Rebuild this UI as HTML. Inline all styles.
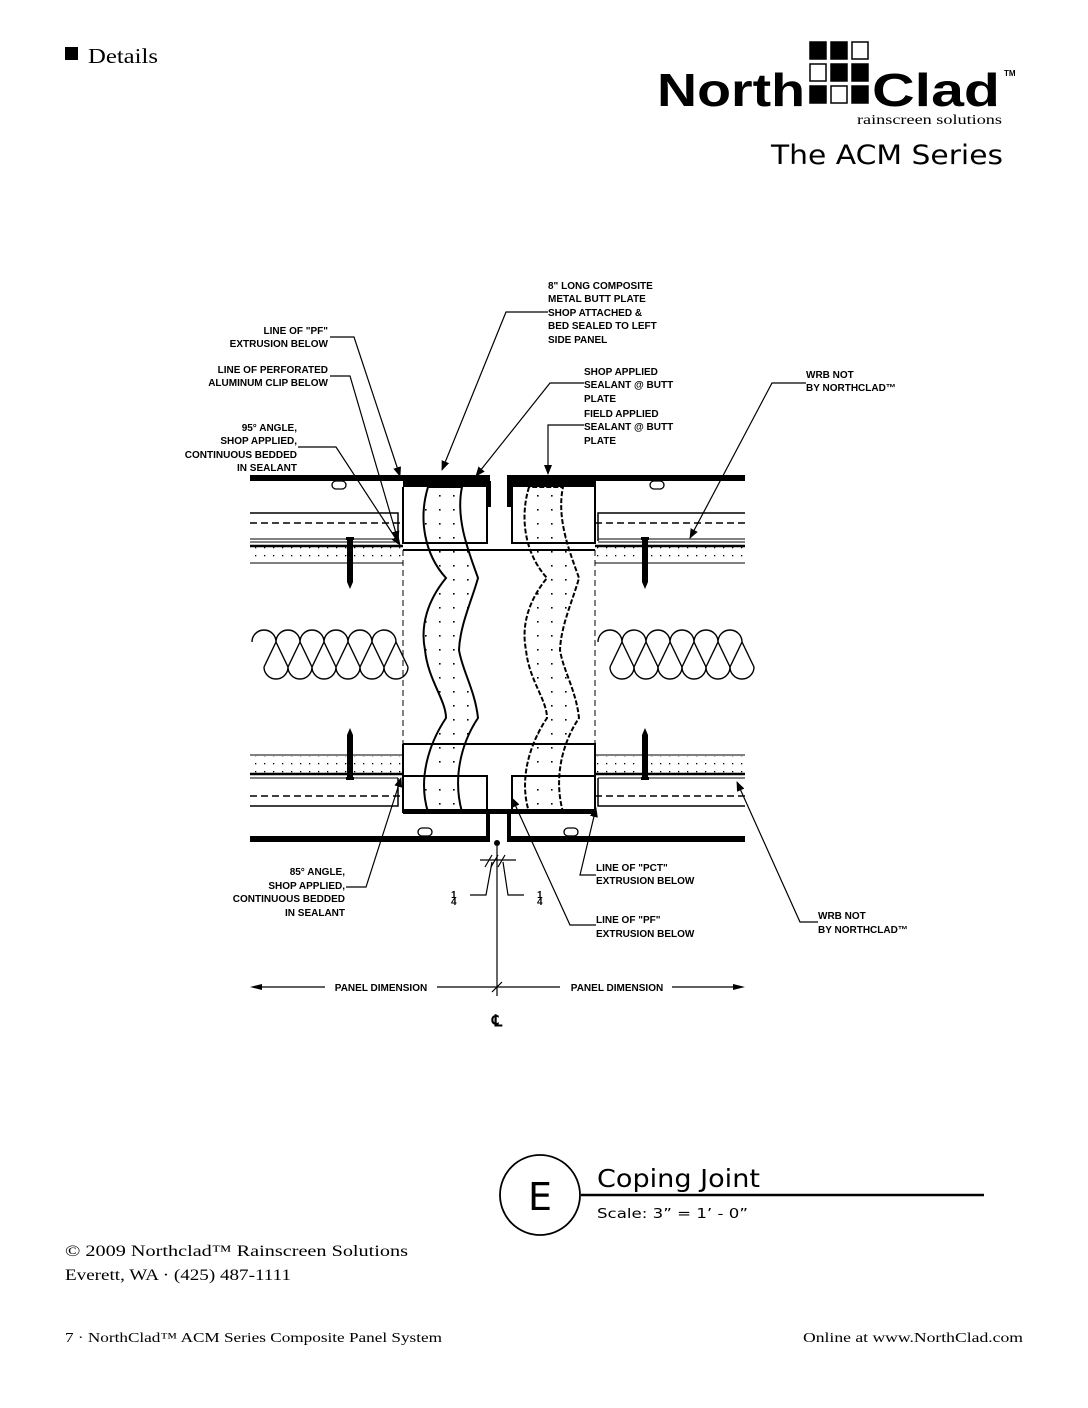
<!DOCTYPE html>
<html><head><meta charset="utf-8"><style>
body{margin:0;background:#fff;}
svg{display:block;}
.lb{font-family:"Liberation Sans",Arial,sans-serif;font-size:10px;font-weight:bold;fill:#000;}
</style></head><body>
<svg width="1088" height="1408" viewBox="0 0 1088 1408" xmlns="http://www.w3.org/2000/svg">
<defs>
<pattern id="dots" width="9" height="8" patternUnits="userSpaceOnUse"><rect x="3" y="3" width="1.3" height="1.3" fill="#000"/></pattern>
<pattern id="dots2" width="14" height="14" patternUnits="userSpaceOnUse"><rect x="5" y="5" width="1.6" height="1.6" fill="#000"/></pattern>
<marker id="ar" markerWidth="10" markerHeight="8" refX="9" refY="4" orient="auto" markerUnits="userSpaceOnUse"><path d="M0,0 L10,4 L0,8 z" fill="#000"/></marker>
<g id="coil" fill="none" stroke="#000" stroke-width="1.4">
<path d="M0,647 A12,12 0 0 1 24,647 M24,647 A12,12 0 0 1 48,647 M48,647 A12,12 0 0 1 72,647 M72,647 A12,12 0 0 1 96,647 M96,647 A12,12 0 0 1 120,647 M120,647 A12,12 0 0 1 144,647"/>
<path d="M12,672 A12,12 0 0 0 36,672 M36,672 A12,12 0 0 0 60,672 M60,672 A12,12 0 0 0 84,672 M84,672 A12,12 0 0 0 108,672 M108,672 A12,12 0 0 0 132,672 M132,672 A12,12 0 0 0 156,672"/>
<path d="M24,647 L12,672 M24,647 L36,672 M48,647 L36,672 M48,647 L60,672 M72,647 L60,672 M72,647 L84,672 M96,647 L84,672 M96,647 L108,672 M120,647 L108,672 M120,647 L132,672 M144,647 L132,672 M144,647 L156,672"/>
</g>
<g id="screwD"><rect x="-4" y="0" width="8" height="3" fill="#000"/><path d="M-3,3 L3,3 L3,45 L0,52 L-3,45 z" fill="#000"/></g>
</defs>

<!-- header -->
<rect x="65" y="47" width="13" height="13" fill="#000"/>
<text x="88" y="63" font-family="Liberation Serif,serif" font-size="21" fill="#000" textLength="70" lengthAdjust="spacingAndGlyphs">Details</text>
<text x="657" y="106" font-family="Liberation Sans,sans-serif" font-weight="bold" font-size="46" fill="#000" textLength="148" lengthAdjust="spacingAndGlyphs">North</text>
<g stroke="#000" stroke-width="1.5">
<rect x="810" y="42" width="16" height="17" fill="#000"/><rect x="831" y="42" width="16" height="17" fill="#000"/><rect x="852" y="42" width="16" height="17" fill="#fff"/>
<rect x="810" y="64" width="16" height="17" fill="#fff"/><rect x="831" y="64" width="16" height="17" fill="#000"/><rect x="852" y="64" width="16" height="17" fill="#000"/>
<rect x="810" y="86" width="16" height="17" fill="#000"/><rect x="831" y="86" width="16" height="17" fill="#fff"/><rect x="852" y="86" width="16" height="17" fill="#000"/>
</g>
<text x="872" y="106" font-family="Liberation Sans,sans-serif" font-weight="bold" font-size="46" fill="#000" textLength="128" lengthAdjust="spacingAndGlyphs">Clad</text>
<text x="1004" y="76" font-family="Liberation Sans,sans-serif" font-weight="bold" font-size="8" fill="#000">TM</text>
<text x="857" y="124" font-family="Liberation Serif,serif" font-size="14" fill="#000" textLength="145" lengthAdjust="spacingAndGlyphs">rainscreen solutions</text>
<text x="771" y="164" font-family="DejaVu Sans,sans-serif" font-size="27" fill="#000" textLength="232" lengthAdjust="spacingAndGlyphs">The ACM Series</text>

<!-- diagram -->
<g stroke="#000" fill="none">
<rect x="250" y="475" width="240" height="6" fill="#000" stroke="none"/>
<rect x="507" y="475" width="238" height="6" fill="#000" stroke="none"/>
<rect x="403" y="478" width="87" height="9" fill="#000" stroke="none"/>
<rect x="507" y="478" width="89" height="9" fill="#000" stroke="none"/>
<rect x="487" y="481" width="4" height="26" fill="#000" stroke="none"/>
<rect x="507" y="481" width="4" height="26" fill="#000" stroke="none"/>
<rect x="332" y="481" width="14" height="8" rx="4" stroke-width="1.3"/>
<rect x="650" y="481" width="14" height="8" rx="4" stroke-width="1.3"/>
<path d="M403,487 L403,543 L487,543 L487,487" stroke-width="2"/>
<path d="M512,487 L512,543 L595,543 L595,487" stroke-width="2"/>
<path d="M403,550 L595,550" stroke-width="2"/>
<path d="M250,513 L398,513 L398,541 M598,541 L598,513 L745,513" stroke-width="1.5"/>
<path d="M250,523 L403,523 M595,523 L745,523" stroke-width="1.5" stroke-dasharray="7,4"/>
<path d="M250,539 L398,539 M598,539 L745,539 M250,542 L398,542 M598,542 L745,542" stroke-width="1"/>
<path d="M250,546 L403,546 M595,546 L745,546" stroke-width="2.5"/>
<rect x="250" y="547" width="152" height="16" fill="url(#dots)" stroke="none"/>
<rect x="596" y="547" width="149" height="16" fill="url(#dots)" stroke="none"/>
<path d="M250,563 L403,563 M595,563 L745,563" stroke-width="1"/>
<path d="M403,550 L403,744 M595,550 L595,744" stroke-width="1" stroke-dasharray="6,4"/>
<path d="M403,744 L595,744 L595,781 M403,744 L403,781" stroke-width="2"/>
<path d="M403,776 L487,776 L487,813 M512,813 L512,776 L595,776" stroke-width="2"/>
<rect x="403" y="809" width="192" height="5" fill="#000" stroke="none"/>
<path d="M403,776 L403,813 M595,776 L595,813" stroke-width="2"/>
<path d="M250,755 L403,755 M595,755 L745,755" stroke-width="1"/>
<rect x="250" y="756" width="152" height="17" fill="url(#dots)" stroke="none"/>
<rect x="596" y="756" width="149" height="17" fill="url(#dots)" stroke="none"/>
<path d="M250,774 L403,774 M595,774 L745,774" stroke-width="2.5"/>
<path d="M250,778 L398,778 M598,778 L745,778" stroke-width="1"/>
<path d="M250,796 L403,796 M595,796 L745,796" stroke-width="1.5" stroke-dasharray="7,4"/>
<path d="M398,778 L398,806 L250,806 M598,778 L598,806 L745,806" stroke-width="1.5"/>
<rect x="486" y="813" width="4" height="25" fill="#000" stroke="none"/>
<rect x="507" y="813" width="4" height="25" fill="#000" stroke="none"/>
<rect x="250" y="836" width="240" height="6" fill="#000" stroke="none"/>
<rect x="507" y="836" width="238" height="6" fill="#000" stroke="none"/>
<rect x="418" y="828" width="14" height="8" rx="4" stroke-width="1.3"/>
<rect x="564" y="828" width="14" height="8" rx="4" stroke-width="1.3"/>
</g>
<g stroke="#000" stroke-width="2" fill="url(#dots2)">
<path d="M428,487 C418,520 425,555 446,578 C428,600 420,625 425,650 C428,680 446,700 446,718 C428,745 418,780 428,812 L462,812 C453,780 460,745 478,718 C475,690 462,670 459,650 C460,625 472,600 478,578 C470,555 455,520 462,487 z"/>
<path d="M529,487 C519,520 526,555 547,578 C529,600 521,625 526,650 C529,680 547,700 547,718 C529,745 519,780 529,812 L563,812 C554,780 561,745 579,718 C576,690 563,670 560,650 C561,625 573,600 579,578 C571,555 556,520 563,487 z" stroke-dasharray="5,2"/>
</g>
<use href="#screwD" x="350" y="537"/>
<use href="#screwD" x="645" y="537"/>
<use href="#screwD" transform="translate(350,780) scale(1,-1)"/>
<use href="#screwD" transform="translate(645,780) scale(1,-1)"/>
<use href="#coil" x="252" y="-5"/>
<use href="#coil" x="598" y="-5"/>

<g stroke="#000" stroke-width="1.2" fill="none" marker-end="url(#ar)">
<path d="M330,337 L354,337 L400,476"/>
<path d="M330,376 L350,376 L398,540"/>
<path d="M298,447 L336,447 L400,545"/>
<path d="M548,312 L506,312 L442,470"/>
<path d="M584,383 L550,383 L476,476"/>
<path d="M584,425 L548,425 L548,474"/>
<path d="M806,383 L772,383 L690,538"/>
<path d="M346,887 L366,887 L401,778"/>
<path d="M596,875 L580,875 L596,808"/>
<path d="M596,925 L570,925 L512,798"/>
<path d="M818,922 L800,922 L737,782"/>
</g>
<g stroke="#000" stroke-width="1.2" fill="none">
<path d="M497,846 L497,996"/>
<path d="M480,860 L516,860"/>
<path d="M485,867 L492,855 M498,867 L505,855 M491,867 L498,855"/>
<path d="M470,895 L486,895 L492,862 M524,895 L508,895 L503,862"/>
<path d="M492,992 L502,982"/>
<path d="M262,987 L325,987 M437,987 L560,987 M672,987 L735,987"/>
</g>
<circle cx="497" cy="843" r="3" fill="#000"/>
<path d="M250,987 L262,984 L262,990 z M745,987 L733,984 L733,990 z" fill="#000"/>
<text x="451" y="898" class="lb" font-size="11">1</text><text x="451" y="905" class="lb" font-size="9">4</text>
<text x="537" y="898" class="lb" font-size="11">1</text><text x="537" y="905" class="lb" font-size="9">4</text>
<text class="lb" x="381" y="991" text-anchor="middle">PANEL DIMENSION</text>
<text class="lb" x="617" y="991" text-anchor="middle">PANEL DIMENSION</text>
<text x="497" y="1026" text-anchor="middle" font-family="Liberation Sans,sans-serif" font-weight="bold" font-size="16">℄</text>

<g class="lb">
<text x="548" y="289">8" LONG COMPOSITE</text><text x="548" y="302">METAL BUTT PLATE</text><text x="548" y="316">SHOP ATTACHED &amp;</text><text x="548" y="329">BED SEALED TO LEFT</text><text x="548" y="343">SIDE PANEL</text>
</g>
<g class="lb" text-anchor="end">
<text x="328" y="334">LINE OF "PF"</text><text x="328" y="347">EXTRUSION BELOW</text>
<text x="328" y="373">LINE OF PERFORATED</text><text x="328" y="386">ALUMINUM CLIP BELOW</text>
<text x="297" y="431">95° ANGLE,</text><text x="297" y="444">SHOP APPLIED,</text><text x="297" y="458">CONTINUOUS BEDDED</text><text x="297" y="471">IN SEALANT</text>
<text x="345" y="875">85° ANGLE,</text><text x="345" y="889">SHOP APPLIED,</text><text x="345" y="902">CONTINUOUS BEDDED</text><text x="345" y="916">IN SEALANT</text>
</g>
<g class="lb">
<text x="584" y="375">SHOP APPLIED</text><text x="584" y="388">SEALANT @ BUTT</text><text x="584" y="402">PLATE</text>
<text x="584" y="417">FIELD APPLIED</text><text x="584" y="430">SEALANT @ BUTT</text><text x="584" y="444">PLATE</text>
<text x="806" y="378">WRB NOT</text><text x="806" y="391">BY NORTHCLAD™</text>
<text x="596" y="871">LINE OF "PCT"</text><text x="596" y="884">EXTRUSION BELOW</text>
<text x="596" y="923">LINE OF "PF"</text><text x="596" y="937">EXTRUSION BELOW</text>
<text x="818" y="919">WRB NOT</text><text x="818" y="933">BY NORTHCLAD™</text>
</g>

<circle cx="540" cy="1195" r="40" fill="none" stroke="#000" stroke-width="1.8"/>
<text x="540" y="1210" text-anchor="middle" font-family="DejaVu Sans,sans-serif" font-size="38">E</text>
<path d="M581,1195 L984,1195" stroke="#000" stroke-width="2.5"/>
<text x="597" y="1187" font-family="DejaVu Sans,sans-serif" font-size="25" textLength="163" lengthAdjust="spacingAndGlyphs">Coping Joint</text>
<text x="597" y="1218" font-family="DejaVu Sans,sans-serif" font-size="13" textLength="151" lengthAdjust="spacingAndGlyphs">Scale: 3” = 1’ - 0”</text>

<text x="65" y="1256" font-family="Liberation Serif,serif" font-size="16" fill="#000" textLength="343" lengthAdjust="spacingAndGlyphs">© 2009 Northclad™ Rainscreen Solutions</text>
<text x="65" y="1280" font-family="Liberation Serif,serif" font-size="16" fill="#000" textLength="226" lengthAdjust="spacingAndGlyphs">Everett, WA · (425) 487-1111</text>
<text x="65" y="1342" font-family="Liberation Serif,serif" font-size="14" fill="#000" textLength="377" lengthAdjust="spacingAndGlyphs">7 · NorthClad™ ACM Series Composite Panel System</text>
<text x="803" y="1342" font-family="Liberation Serif,serif" font-size="14" fill="#000" textLength="220" lengthAdjust="spacingAndGlyphs">Online at www.NorthClad.com</text>
</svg>
</body></html>
